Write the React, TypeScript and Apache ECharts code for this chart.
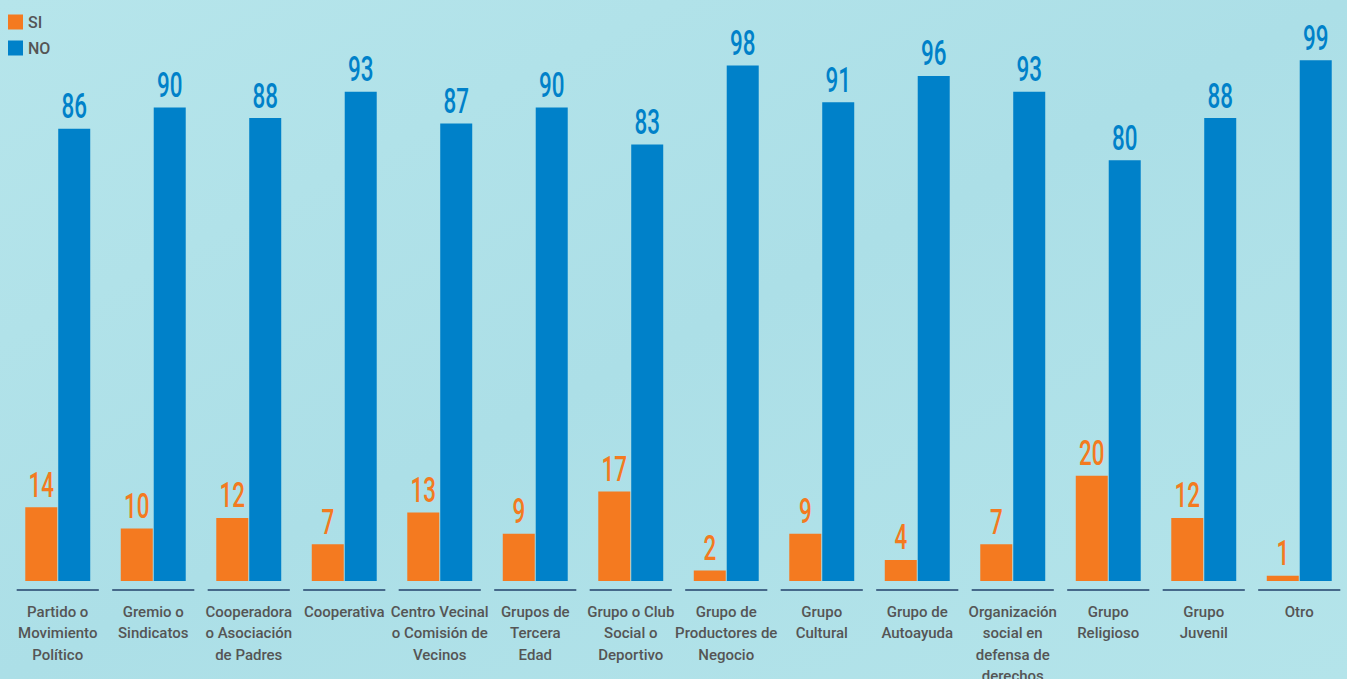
import React, { useEffect, useRef } from "react";
import * as echarts from "echarts";

const categories = [
  "Partido o\nMovimiento\nPolítico",
  "Gremio o\nSindicatos",
  "Cooperadora\no Asociación\nde Padres",
  "Cooperativa",
  "Centro Vecinal\no Comisión de\nVecinos",
  "Grupos de\nTercera\nEdad",
  "Grupo o Club\nSocial o\nDeportivo",
  "Grupo de\nProductores de\nNegocio",
  "Grupo\nCultural",
  "Grupo de\nAutoayuda",
  "Organización\nsocial en\ndefensa de\nderechos",
  "Grupo\nReligioso",
  "Grupo\nJuvenil",
  "Otro",
];
const siValues = [14, 10, 12, 7, 13, 9, 17, 2, 9, 4, 7, 20, 12, 1];
const noValues = [86, 90, 88, 93, 87, 90, 83, 98, 91, 96, 93, 80, 88, 99];

const ORANGE = "#F47A20";
const BLUE = "#0081C9";
const BAR_W = 32;
const BAR_GAP_PX = 1;

export default function App() {
  const ref = useRef<HTMLDivElement>(null);
  useEffect(() => {
    if (!ref.current) return;
    const chart = echarts.init(ref.current, undefined, { renderer: "svg" });

    const labelSeries = (name: string, values: number[], color: string, side: number) => ({
      name: name + "-label",
      type: "custom",
      silent: true,
      clip: false,
      z: 5,
      data: values.map((v, i) => [i, v]),
      renderItem: (params: any, api: any) => {
        const v = api.value(1);
        const pt = api.coord([api.value(0), v]);
        return {
          type: "text",
          x: pt[0] + side * (BAR_W + BAR_GAP_PX) / 2,
          y: pt[1] - 5,
          scaleX: 0.64,
          style: {
            text: String(v),
            fill: color,
            font: "500 35px Roboto",
            textAlign: "center",
            textVerticalAlign: "bottom",
          },
        };
      },
    });

    chart.setOption({
      animation: false,
      backgroundColor: {
        type: "linear",
        x: 0,
        y: 0,
        x2: 1,
        y2: 1,
        colorStops: [
          { offset: 0, color: "#b6e5eb" },
          { offset: 0.5, color: "#acdfe7" },
          { offset: 1, color: "#b4e4ea" },
        ],
      },
      legend: {
        data: ["SI", "NO"],
        orient: "vertical",
        left: 8,
        top: 14,
        padding: 0,
        itemWidth: 15,
        itemHeight: 15,
        itemGap: 10,
        icon: "rect",
        textStyle: { color: "#555", fontSize: 16, fontWeight: 500, fontFamily: "Roboto" },
      },
      grid: { left: 10, right: 0, top: 55, bottom: 98, outerBoundsMode: "none", containLabel: false },
      xAxis: {
        type: "category",
        data: categories,
        axisLine: { show: false },
        axisTick: { show: false },
        axisLabel: {
          interval: 0,
          margin: 20,
          color: "#555555",
          fontSize: 15,
          fontWeight: 500,
          lineHeight: 21.5,
          fontFamily: "Roboto",
        },
      },
      yAxis: { type: "value", min: 0, max: 100, show: false },
      series: [
        {
          name: "SI",
          type: "bar",
          data: siValues,
          barWidth: BAR_W,
          barGap: "3%",
          itemStyle: { color: ORANGE },
        },
        {
          name: "NO",
          type: "bar",
          data: noValues,
          barWidth: BAR_W,
          barGap: "3%",
          itemStyle: { color: BLUE },
        },
        labelSeries("SI", siValues, ORANGE, -1),
        labelSeries("NO", noValues, BLUE, 1),
        {
          name: "sep",
          type: "custom",
          silent: true,
          clip: false,
          data: categories.map((_, i) => [i, 0]),
          renderItem: (params: any, api: any) => {
            const pt = api.coord([api.value(0), 0]);
            const band = api.size([1, 0])[0];
            const half = band * 0.43;
            return {
              type: "line",
              shape: { x1: pt[0] - half, y1: pt[1] + 9, x2: pt[0] + half, y2: pt[1] + 9 },
              style: { stroke: "#46698a", lineWidth: 2 },
            };
          },
        },
      ],
    });
    return () => chart.dispose();
  }, []);
  return (
    <div
      ref={ref}
      style={{ position: "fixed", left: 0, top: 0, width: 1347, height: 679 }}
    />
  );
}
